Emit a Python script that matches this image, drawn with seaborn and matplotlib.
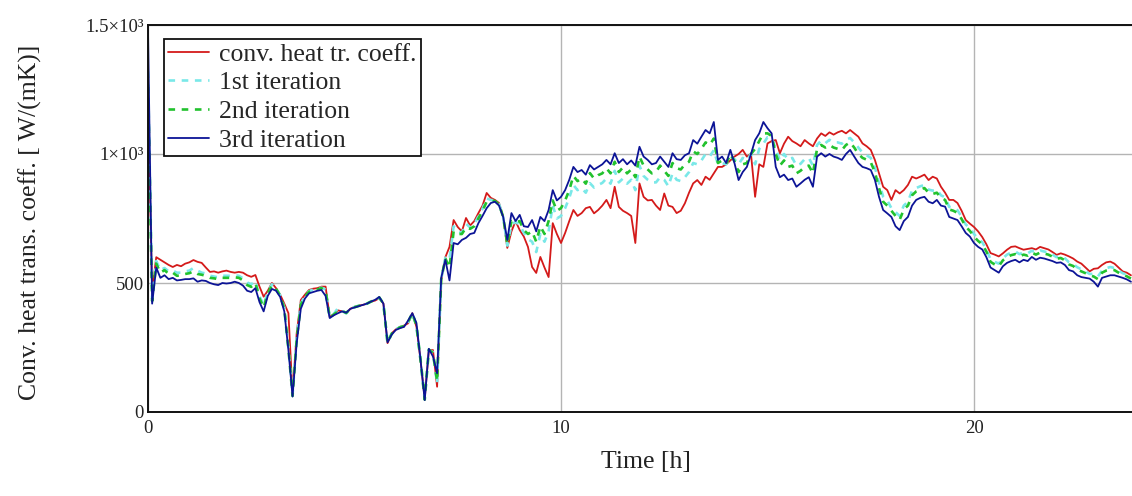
import matplotlib
matplotlib.use("Agg")
import matplotlib.pyplot as plt
import seaborn as sns
import pandas as pd

# sample times [h], one sample every 6 minutes
time_h = [round(i * 0.1, 1) for i in range(239)]

# convective heat transfer coefficient (measured) [W/(mK)]
conv_coeff = [
    1210, 470, 600, 590, 580, 570, 562, 570, 565, 575,
    580, 589, 582, 578, 560, 543, 545, 540, 545, 548,
    543, 540, 543, 540, 530, 524, 531, 486, 447, 470,
    500, 480, 455, 420, 383, 70, 305, 434, 455, 473,
    478, 480, 486, 486, 368, 380, 394, 390, 383, 400,
    408, 412, 415, 420, 428, 432, 441, 420, 267, 305,
    320, 330, 335, 344, 383, 330, 200, 50, 240, 240,
    98, 512, 600, 640, 744, 717, 700, 752, 723, 740,
    771, 800, 849, 830, 822, 810, 756, 636, 700, 740,
    705, 680, 640, 562, 539, 601, 560, 523, 732, 690,
    655, 694, 740, 783, 760, 771, 790, 795, 770, 783,
    800, 822, 790, 873, 795, 780, 771, 760, 655, 886,
    834, 820, 822, 800, 783, 847, 800, 795, 771, 780,
    809, 850, 886, 899, 880, 912, 900, 925, 950, 950,
    960, 975, 990, 1000, 1016, 990, 1000, 834, 960, 950,
    1041, 1050, 1054, 1003, 1040, 1067, 1050, 1041, 1030, 1054,
    1041, 1030, 1060, 1080, 1070, 1084, 1075, 1084, 1090, 1080,
    1093, 1080, 1067, 1041, 1030, 1016, 977, 925, 873, 860,
    822, 860, 847, 860, 880, 912, 905, 912, 920, 899,
    912, 905, 873, 850, 822, 822, 810, 780, 744, 730,
    717, 700, 678, 650, 616, 610, 603, 615, 629, 640,
    642, 635, 629, 632, 635, 630, 640, 635, 630, 620,
    609, 615, 610, 603, 595, 583, 575, 560, 545, 555,
    557, 570, 580, 583, 575, 560, 545, 540, 530,
]

iter_1 = [
    1320, 440, 585, 550, 558, 545, 548, 540, 540, 545,
    548, 558, 548, 540, 537, 528, 525, 522, 528, 528,
    528, 530, 528, 518, 502, 495, 508, 448, 415, 465,
    495, 480, 452, 405, 250, 65, 290, 420, 450, 468,
    475, 478, 482, 475, 367, 380, 403, 392, 382, 400,
    407, 412, 415, 420, 428, 433, 443, 420, 268, 304,
    320, 329, 334, 348, 383, 332, 200, 50, 241, 232,
    110, 515, 598, 590, 720, 700, 695, 730, 715, 728,
    758, 788, 828, 822, 820, 806, 756, 645, 725, 737,
    725, 695, 670, 660, 620, 690, 660, 700, 800, 750,
    760, 790, 830, 880, 860, 868, 850, 887, 870, 880,
    888, 905, 885, 935, 890, 905, 885, 900, 860, 955,
    915, 900, 890, 890, 910, 900, 875, 925, 900, 895,
    910, 930, 965, 960, 975, 1000, 990, 1015, 960, 965,
    960, 990, 980, 960, 985, 975, 1000, 960, 1020, 1040,
    1065, 1062, 1020, 975, 1000, 977, 985, 955, 962, 980,
    985, 955, 1035, 1052, 1042, 1055, 1045, 1045, 1040, 1055,
    1062, 1045, 1025, 1005, 995, 985, 948, 888, 835, 820,
    790, 775, 760, 800, 815, 858, 868, 875, 880, 862,
    858, 862, 840, 832, 795, 792, 782, 757, 727, 712,
    690, 672, 658, 630, 592, 582, 575, 596, 610, 618,
    622, 612, 618, 615, 625, 618, 626, 622, 618, 610,
    600, 604, 596, 580, 574, 561, 553, 545, 535, 535,
    525, 548, 557, 562, 558, 548, 538, 532, 522,
]

iter_2 = [
    1260, 430, 575, 540, 550, 535, 540, 528, 530, 535,
    538, 545, 535, 532, 528, 520, 518, 515, 520, 520,
    520, 522, 520, 510, 492, 485, 500, 440, 405, 460,
    490, 478, 450, 400, 245, 62, 280, 415, 448, 466,
    472, 475, 480, 470, 366, 378, 390, 392, 384, 400,
    406, 411, 415, 420, 428, 434, 444, 420, 268, 303,
    319, 328, 333, 350, 383, 335, 200, 48, 242, 228,
    120, 515, 595, 560, 700, 690, 690, 715, 710, 720,
    750, 780, 815, 818, 818, 805, 756, 650, 740, 735,
    740, 705, 690, 700, 660, 720, 690, 740, 820, 780,
    790, 820, 860, 915, 895, 905, 885, 926, 905, 918,
    925, 945, 925, 970, 930, 948, 925, 940, 910, 990,
    955, 940, 925, 930, 955, 935, 915, 965, 945, 940,
    960, 970, 1010, 1000, 1020, 1045, 1035, 1060, 965, 975,
    962, 1000, 972, 930, 960, 965, 1000, 1020, 1050, 1080,
    1080, 1070, 1000, 955, 975, 950, 955, 925, 935, 950,
    955, 925, 1020, 1035, 1025, 1035, 1025, 1020, 1015, 1035,
    1045, 1025, 1000, 985, 978, 968, 930, 868, 815, 800,
    780, 760, 745, 785, 800, 840, 855, 862, 868, 850,
    845, 850, 830, 822, 785, 780, 772, 748, 718, 702,
    680, 663, 650, 622, 582, 572, 565, 588, 600, 608,
    612, 603, 610, 606, 618, 610, 618, 614, 610, 602,
    594, 597, 588, 572, 566, 552, 545, 538, 530, 525,
    515, 540, 548, 552, 550, 540, 532, 526, 517,
]

iter_3 = [
    1480, 420, 560, 520, 530, 515, 520, 510, 512, 515,
    515, 518, 505, 510, 508, 500, 495, 492, 500, 498,
    500, 505, 500, 490, 470, 465, 480, 426, 390, 450,
    477, 470, 446, 390, 240, 60, 267, 400, 440, 460,
    465, 470, 473, 450, 364, 375, 383, 390, 385, 400,
    405, 410, 415, 420, 428, 435, 446, 420, 270, 300,
    318, 325, 330, 355, 383, 345, 200, 46, 245, 215,
    150, 520, 590, 510, 655, 650, 667, 675, 690, 694,
    732, 760, 790, 810, 815, 800, 756, 667, 771, 740,
    764, 720, 717, 744, 700, 756, 740, 783, 860, 820,
    834, 860, 900, 950, 930, 938, 920, 957, 940, 950,
    960, 977, 960, 1003, 965, 980, 960, 975, 955, 1028,
    990, 977, 960, 965, 990, 970, 950, 1003, 980, 977,
    995, 1003, 1054, 1040, 1067, 1093, 1080, 1124, 977, 990,
    965, 1016, 965, 899, 930, 950, 1000, 1054, 1080, 1124,
    1100, 1080, 950, 910, 920, 899, 905, 873, 886, 900,
    910, 873, 990, 1003, 990, 1000, 990, 985, 977, 1000,
    1016, 990, 965, 950, 945, 938, 900, 834, 783, 770,
    756, 720, 705, 740, 756, 800, 822, 830, 834, 815,
    809, 822, 800, 796, 756, 750, 744, 720, 694, 680,
    655, 640, 630, 600, 560, 550, 540, 565, 578, 585,
    590, 580, 590, 585, 601, 590, 598, 595, 590, 585,
    578, 580, 570, 550, 545, 530, 523, 520, 517, 505,
    486, 520, 525, 530, 530, 525, 520, 514, 505,
]

series_names = ["conv. heat tr. coeff.", "1st iteration", "2nd iteration", "3rd iteration"]
series_values = [conv_coeff, iter_1, iter_2, iter_3]
y_ticks = [0, 500, 1000, 1500]
y_tick_labels = ["0", "500", "1\u00d710\u00b3", "1.5\u00d710\u00b3"]
x_ticks = [0, 10, 20]

styles = {
    "conv. heat tr. coeff.": dict(color="#d41a1a", linestyle="-", linewidth=1.3),
    "1st iteration": dict(color="#7ae8e8", linestyle=(0, (2.5, 2.5)), linewidth=1.9),
    "2nd iteration": dict(color="#22c22e", linestyle=(0, (2.5, 2.5)), linewidth=1.9),
    "3rd iteration": dict(color="#0c1496", linestyle="-", linewidth=1.3),
}

sns.set_style("white")
plt.rcParams["font.family"] = ["Liberation Serif", "DejaVu Serif"]

fig = plt.figure(figsize=(11.32, 4.96), dpi=100)
ax = fig.add_axes([148 / 1132, 1 - 412 / 496, 984 / 1132, 387 / 496])

for name, values in zip(series_names, series_values):
    df = pd.DataFrame({"time": time_h, "value": values})
    sns.lineplot(data=df, x="time", y="value", ax=ax, label=name,
                 estimator=None, sort=False, **styles[name])

ax.set_xlim(0, 984 / 41.3)
ax.set_ylim(0, 1500)
ax.set_xticks(x_ticks)
ax.set_xticklabels([str(t) for t in x_ticks])
ax.set_yticks(y_ticks)
ax.set_yticklabels(y_tick_labels)
ax.tick_params(length=0, labelsize=13.5, colors="#222222")
ax.tick_params(axis="x", pad=6)
ax.tick_params(axis="y", pad=3)

ax.grid(True, color="#b4b4b4", linewidth=1.0)
ax.set_axisbelow(True)
for side in ["left", "bottom", "top"]:
    ax.spines[side].set_color("#111111")
    ax.spines[side].set_linewidth(1.4)
ax.spines["right"].set_visible(False)

ax.set_xlabel("Time [h]", fontsize=18.5, color="#222222")
ax.set_ylabel("Conv. heat trans. coeff. [ W/(mK)]", fontsize=18.5, color="#222222")
ax.xaxis.set_label_coords(0.506, -0.10)
ax.yaxis.set_label_coords(-0.108, 0.49)

leg = ax.legend(loc="upper left", bbox_to_anchor=(16 / 984, (412 - 39) / 387),
                borderaxespad=0, fontsize=18.5, frameon=True, fancybox=False,
                framealpha=1, edgecolor="#111111", labelspacing=0.22,
                handlelength=1.6, handletextpad=0.4, borderpad=0.15)
leg.get_frame().set_linewidth(1.3)

fig.savefig("out.png", dpi=100)
